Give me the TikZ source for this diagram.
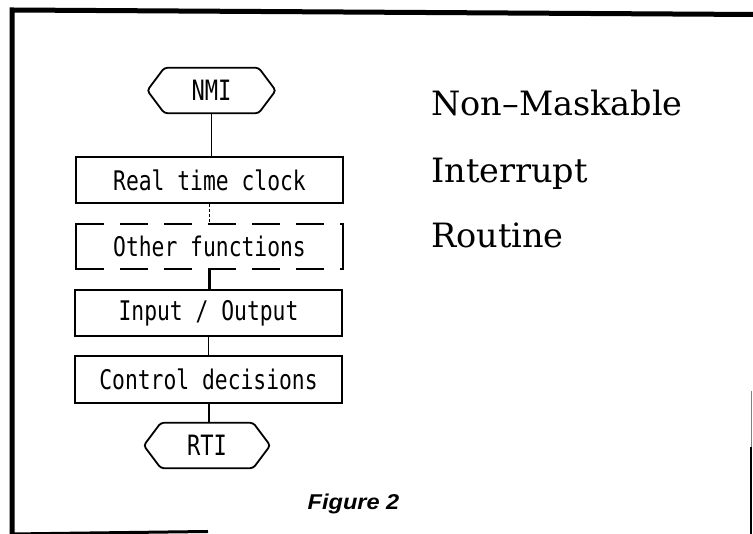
\documentclass[tikz,border=0pt]{standalone}
\usepackage{fontspec}
\newfontfamily\boxfont[FakeStretch=0.79]{DejaVu Sans Mono}
\newfontfamily\titlefont{DejaVu Serif}
\newfontfamily\figfont[FakeStretch=1.1]{Liberation Sans}
\begin{document}
\begin{tikzpicture}[x=1pt,y=1pt,
  framel/.style={line width=5pt,line cap=rect},
  boxn/.style={draw,line width=1.8pt,minimum width=267pt,minimum height=46pt,inner sep=0pt,
    font=\boxfont\fontsize{27}{30}\selectfont},
  plainn/.style={minimum width=267pt,minimum height=45pt,inner sep=0pt,
    font=\boxfont\fontsize{27}{30}\selectfont},
  termn/.style={minimum width=128pt,minimum height=45pt,inner sep=0pt,
    font=\boxfont\fontsize{28}{30}\selectfont},
  hexline/.style={line width=1.8pt,rounded corners=3pt},
  conn/.style={line width=1.3pt},
  dashedge/.style={line width=1.8pt,dash pattern=on 28pt off 16pt},
  ttl/.style={anchor=base west,inner sep=0pt,font=\titlefont\fontsize{33.5}{36}\selectfont}
]
\useasboundingbox (0,0) rectangle (753,534);
% frame
\coordinate (fbl) at (12,0);
\coordinate (ftl) at (12,524);
\coordinate (ftr) at (753,519.5);
\coordinate (fbr) at (208,2.5);
\coordinate (rtop) at (751,143);
\coordinate (rmid) at (751,87);
\coordinate (rbot) at (751,0);
\draw[framel] (fbl) -- (ftl) -- (ftr);
\draw[line width=3pt] (fbl) -- (fbr);
\draw[line width=1pt,gray] (rtop) -- (rmid);
\draw[line width=2.5pt] (rmid) -- (rbot);
% nodes
\node[termn] (nmi) at (211.5,443.5) {NMI};
\draw[hexline] ([xshift=17pt]nmi.north west) -- ([xshift=-17pt]nmi.north east) -- (nmi.east)
  -- ([xshift=-17pt]nmi.south east) -- ([xshift=17pt]nmi.south west) -- (nmi.west) -- cycle;
\node[boxn] (b1) at (209.5,354) {Real time clock};
\node[plainn] (b2) at (209.5,287.5) {Other functions};
\draw[dashedge] (b2.north west) -- (b2.north east);
\draw[dashedge] (b2.south west) -- (b2.south east);
\draw[line width=1.8pt,line cap=rect] (b2.north west) -- (b2.south west);
\draw[line width=1.8pt,line cap=rect] (b2.north east) -- (b2.south east);
\node[boxn] (b3) at (208.5,221) {Input / Output};
\node[boxn,minimum height=47pt] (b4) at (208.5,154.5) {Control decisions};
\node[termn,minimum width=126pt] (rti) at (207,88.5) {RTI};
\draw[hexline] ([xshift=17pt]rti.north west) -- ([xshift=-17pt]rti.north east) -- (rti.east)
  -- ([xshift=-17pt]rti.south east) -- ([xshift=17pt]rti.south west) -- (rti.west) -- cycle;
% connectors
\draw[conn] (nmi.south) -- (nmi.south |- b1.north);
\draw[conn,dash pattern=on 3pt off 2pt] (b1.south) -- (b1.south |- b2.north);
\draw[line width=2.2pt] (b2.south) -- (b2.south |- b3.north);
\draw[conn] (b3.south) -- (b3.south |- b4.north);
\draw[line width=2pt] (b4.south) -- (b4.south |- rti.north);
% titles
\node[ttl] (t1) at (431,418) {Non–Maskable};
\node[ttl] (t2) at (431,351.3) {Interrupt};
\node[ttl] (t3) at (431,286) {Routine};
\node[anchor=base,inner sep=0pt,font=\figfont\bfseries\itshape\fontsize{21.4}{24}\selectfont] (fig) at (353.5,24.7) {Figure 2};
\end{tikzpicture}
\end{document}
